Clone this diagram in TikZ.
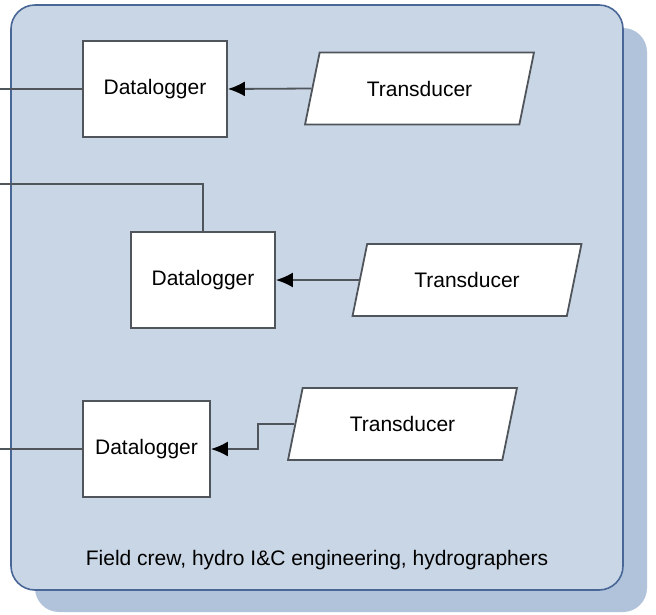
\documentclass[tikz,border=0pt]{standalone}
\usepackage{fontspec}
\setmainfont{Liberation Sans}
\usetikzlibrary{shapes.geometric,arrows.meta}
\definecolor{panelfill}{RGB}{201,214,229}
\definecolor{panelborder}{RGB}{72,102,150}
\definecolor{panelshadow}{RGB}{176,195,219}
\definecolor{conn}{RGB}{80,85,92}
\tikzset{
  logger/.style={draw=conn, fill=white, line width=1.8pt, minimum height=96pt, inner sep=0pt, font=\fontsize{21pt}{25pt}\selectfont},
  transducer/.style={trapezium, trapezium left angle=63.4, trapezium right angle=116.6, trapezium stretches=true,
     draw=conn, fill=white, line width=1.8pt, minimum width=229pt, minimum height=72pt, inner sep=0pt, font=\fontsize{21pt}{25pt}\selectfont},
  link/.style={draw=conn, line width=1.8pt},
  arrowlink/.style={link, -{Latex[length=17pt,width=15pt,black]}},
}
\begin{document}
\begin{tikzpicture}[x=1pt,y=-1pt]
\useasboundingbox (0,0) rectangle (656,614);
% shadow and panel
\fill[panelshadow, rounded corners=24pt] (35,28) rectangle (647,612);
\draw[panelborder, fill=panelfill, line width=1.6pt, rounded corners=24pt] (11,5) rectangle (623,590);
% dataloggers
\node[logger, minimum width=144pt] (d1) at (155,89) {Datalogger};
\node[logger, minimum width=144pt] (d2) at (203,280) {Datalogger};
\node[logger, minimum width=127pt] (d3) at (146.5,449) {Datalogger};
% transducers
\node[transducer] (t1) at (419.5,88.5) {Transducer};
\node[transducer] (t2) at (467,280) {Transducer};
\node[transducer] (t3) at (402.5,424) {Transducer};
% free ends
\coordinate (e1) at (0,89);
\coordinate (e2) at (0,184);
\coordinate (e3) at (0,449);
\coordinate (k3) at (258,424);
% connectors
\draw[link] (e1) -- (d1.west);
\draw[link] (e2) -| (d2.north);
\draw[link] (e3) -- (d3.west);
\draw[arrowlink] (t1.left side) -- (d1.east);
\draw[arrowlink] (t2.left side) -- (d2.east);
\draw[arrowlink] (t3.left side) -- (k3) |- (d3.east);
% caption
\node[font=\fontsize{21pt}{25pt}\selectfont] (cap) at (317,560) {Field crew, hydro I\&C engineering, hydrographers};
\end{tikzpicture}
\end{document}
